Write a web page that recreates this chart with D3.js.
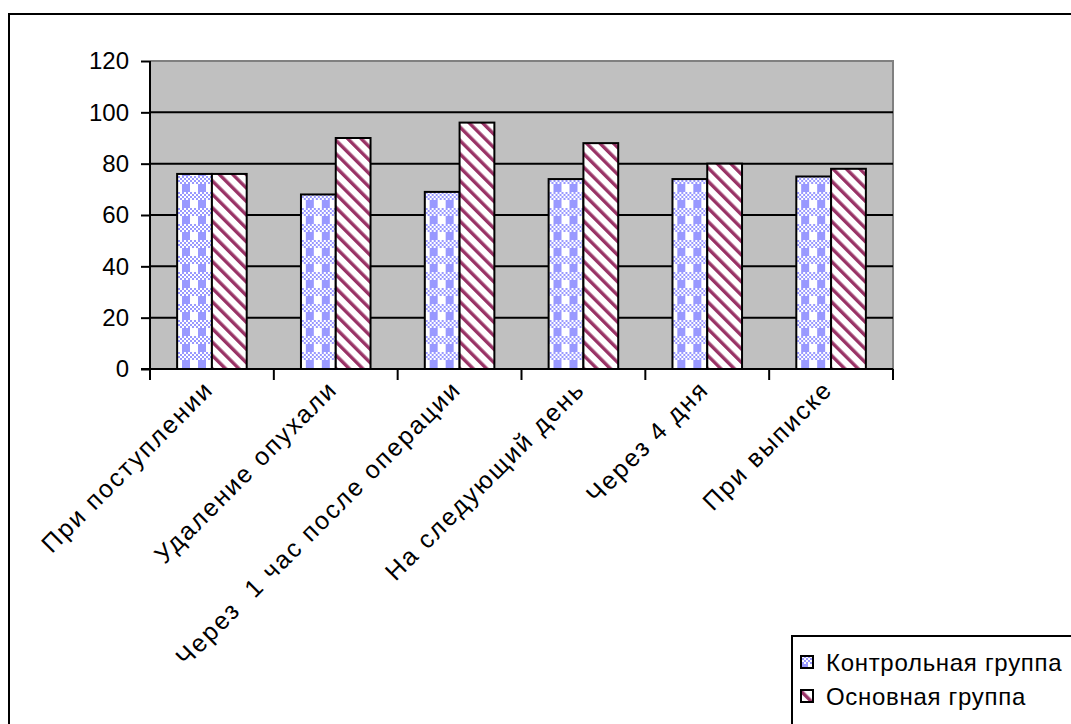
<!DOCTYPE html>
<html>
<head>
<meta charset="utf-8">
<script src="https://cdn.jsdelivr.net/npm/d3@7"></script>
<style>
  html, body { margin: 0; padding: 0; background: #fff; overflow: hidden; }
  svg { display: block; font-family: "Liberation Sans", Arial, sans-serif; }
</style>
</head>
<body>
<svg id="chart" width="1071" height="724"></svg>
<script>
// Categories (measurement moments) and the two groups' values
const categories = [
  "При поступлении",
  "Удаление опухали",
  "Через  1 час после операции",
  "На следующий день",
  "Через 4 дня",
  "При выписке"
];
const seriesNames = ["Контрольная группа", "Основная группа"];
const controlValues = [76, 68, 69, 74, 74, 75];
const mainValues = [76, 90, 96, 88, 80, 78];
const yTicks = [0, 20, 40, 60, 80, 100, 120];

const svg = d3.select("#chart");
const W = 1071, H = 724;
const BLUE = "#9999FF", WINE = "#993366";

// Fill patterns
const defs = svg.append("defs");

// Blue / white plaid for the control group: a checker band over a half-solid band
const T = 16, c = 2;
const plaid = defs.append("pattern")
  .attr("id", "plaid").attr("patternUnits", "userSpaceOnUse")
  .attr("width", T).attr("height", T);
plaid.append("rect").attr("width", T).attr("height", T).attr("fill", "#fff");
for (let i = 0; i < T / c; i++) {
  for (let j = 0; j < T / (2 * c); j++) {
    if ((i + j) % 2 === 0) {
      plaid.append("rect").attr("x", i * c).attr("y", j * c)
        .attr("width", c).attr("height", c).attr("fill", BLUE);
    }
  }
}
plaid.append("rect").attr("x", 0).attr("y", T / 2).attr("width", T / 2).attr("height", T / 2).attr("fill", BLUE);

// Wide downward diagonal stripes for the main group
const stripes = defs.append("pattern")
  .attr("id", "stripes").attr("patternUnits", "userSpaceOnUse")
  .attr("width", 9.5).attr("height", 9.5)
  .attr("patternTransform", "rotate(-45)");
stripes.append("rect").attr("width", 9.5).attr("height", 9.5).attr("fill", "#fff");
stripes.append("rect").attr("x", 0).attr("y", 0).attr("width", 3.4).attr("height", 9.5).attr("fill", WINE);

const fills = ["url(#plaid)", "url(#stripes)"];
const data = categories.map((c, i) => ({ cat: c, vals: [controlValues[i], mainValues[i]] }));

// Outer chart frame
svg.append("rect")
  .attr("x", 9).attr("y", 14).attr("width", W).attr("height", H)
  .attr("fill", "none").attr("stroke", "#000").attr("stroke-width", 2);

// Plot area
const plot = { left: 150, right: 893, top: 61, bottom: 369 };

const x0 = d3.scaleBand().domain(categories).range([plot.left, plot.right]).padding(0);
const x1 = d3.scaleBand().domain(seriesNames).range([0, x0.bandwidth()])
  .paddingInner(0).paddingOuter(0.78);
const y = d3.scaleLinear().domain([0, 120]).range([plot.bottom, plot.top]);

svg.append("rect")
  .attr("x", plot.left).attr("y", plot.top)
  .attr("width", plot.right - plot.left).attr("height", plot.bottom - plot.top)
  .attr("fill", "#C0C0C0");
svg.append("path")
  .attr("d", `M${plot.left},${plot.top}H${plot.right}V${plot.bottom}`)
  .attr("fill", "none").attr("stroke", "#808080").attr("stroke-width", 2);

// Gridlines
svg.append("g").selectAll("line")
  .data(yTicks.filter(t => t > 0 && t < 120))
  .join("line")
  .attr("x1", plot.left).attr("x2", plot.right)
  .attr("y1", d => y(d)).attr("y2", d => y(d))
  .attr("stroke", "#000").attr("stroke-width", 2);

// Bars
const groups = svg.append("g").selectAll("g")
  .data(data).join("g")
  .attr("transform", d => `translate(${x0(d.cat)},0)`);
groups.selectAll("rect")
  .data(d => d.vals.map((v, k) => ({ name: seriesNames[k], v, k })))
  .join("rect")
  .attr("x", d => x1(d.name))
  .attr("y", d => y(d.v))
  .attr("width", x1.bandwidth())
  .attr("height", d => y(0) - y(d.v))
  .attr("fill", d => fills[d.k])
  .attr("stroke", "#000").attr("stroke-width", 2);

// Y axis
const yAxis = svg.append("g")
  .attr("transform", `translate(${plot.left},0)`)
  .call(d3.axisLeft(y).tickValues(yTicks).tickSize(9).tickPadding(12));
yAxis.select(".domain").attr("stroke", "#000").attr("stroke-width", 2)
  .attr("d", `M0,${plot.top}V${plot.bottom + 11}`);
yAxis.selectAll(".tick line").attr("stroke", "#000").attr("stroke-width", 2);
yAxis.selectAll(".tick text")
  .attr("font-size", 24).attr("fill", "#000")
  .attr("font-family", "'Liberation Sans', Arial, sans-serif");

// X axis line with category separator ticks
const xEdges = categories.map(c => x0(c)).concat([plot.right]);
svg.append("line")
  .attr("x1", plot.left - 9).attr("x2", plot.right)
  .attr("y1", plot.bottom).attr("y2", plot.bottom)
  .attr("stroke", "#000").attr("stroke-width", 2);
svg.append("g").selectAll("line")
  .data(xEdges).join("line")
  .attr("x1", d => d).attr("x2", d => d)
  .attr("y1", plot.bottom).attr("y2", plot.bottom + 11)
  .attr("stroke", "#000").attr("stroke-width", 2);

// Rotated category labels
svg.append("g").selectAll("text")
  .data(categories).join("text")
  .attr("transform", d => `translate(${x0(d) + x0.bandwidth() / 2 + 3},${plot.bottom + 22}) rotate(-45)`)
  .attr("text-anchor", "end")
  .attr("font-size", 25)
  .attr("letter-spacing", 2)
  .style("white-space", "pre")
  .attr("fill", "#000")
  .text(d => d);

// Legend
const legend = svg.append("g");
legend.append("rect")
  .attr("x", 792).attr("y", 636).attr("width", 400).attr("height", 200)
  .attr("fill", "#fff").attr("stroke", "#000").attr("stroke-width", 2);
seriesNames.forEach((name, k) => {
  const ly = 662 + k * 34;
  legend.append("rect")
    .attr("x", 801).attr("y", ly - 6).attr("width", 12).attr("height", 12)
    .attr("fill", fills[k]).attr("stroke", "#000").attr("stroke-width", 2);
  legend.append("text")
    .attr("x", 826).attr("y", ly + 9)
    .attr("font-size", 24).attr("letter-spacing", 0.7).attr("fill", "#000")
    .text(name);
});
</script>
</body>
</html>
